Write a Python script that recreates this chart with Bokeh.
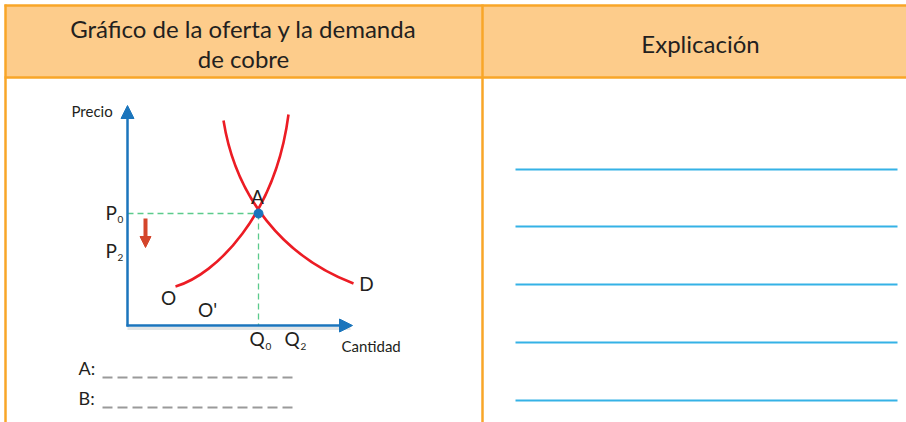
from bokeh.plotting import figure
from bokeh.models import Range1d, Arrow, NormalHead
from bokeh.core.properties import value
from bokeh.embed import file_html
from bokeh.resources import INLINE

# ---------------- data ----------------
header_titles = ["Gráfico de la oferta y la demanda", "de cobre", "Explicación"]
axis_titles = ["Precio", "Cantidad"]
price_labels = ["P", "P"]
price_subs = ["0", "2"]
qty_labels = ["Q", "Q"]
qty_subs = ["0", "2"]
curve_labels = ["O", "O'", "D"]
point_label = "A"
answer_labels = ["A:", "B:"]

# supply (O) and demand (D) curves: start, control1, control2, end  (page coordinates)
supply_curve = dict(x0=[175], y0=[286], cx0=[216], cy0=[274], cx1=[275], cy1=[214], x1=[288], y1=[114])
demand_curve = dict(x0=[223], y0=[120], cx0=[235], cy0=[196], cx1=[282], cy1=[256], x1=[353], y1=[283])
equilibrium = dict(q=[258], p=[213])
axis_origin = dict(x=[127], y=[325])
answer_lines_y = [377, 407]
explain_lines_y = [169, 226, 284, 342, 400]

# ---------------- figure ----------------
W, H = 906, 422
p = figure(width=W, height=H, x_range=Range1d(0, W), y_range=Range1d(H, 0),
           output_backend="svg", toolbar_location=None, min_border=0,
           x_axis_location=None, y_axis_location=None)
p.grid.visible = False
p.outline_line_color = None
p.background_fill_color = "white"
p.border_fill_color = "white"

FONT = value("Lato")
TXT = "#231f20"
ORANGE = "#F8A628"
BLUE = "#1b75bc"
RED = "#ec1c24"

# header
p.quad(left=[5], right=[906], top=[5], bottom=[77], fill_color="#FDCC8B", line_color=None)
p.segment(x0=[4, 4], y0=[5, 77], x1=[906, 906], y1=[5, 77], line_color=ORANGE, line_width=2.5)
p.segment(x0=[5, 482], y0=[4, 4], x1=[5, 482], y1=[422, 422], line_color=ORANGE, line_width=2.5)

p.text(x=[243, 243], y=[28, 58], text=header_titles[:2], text_align="center",
       text_baseline="middle", text_font=FONT, text_font_size="24px", text_color=TXT)
p.text(x=[700], y=[43], text=header_titles[2:], text_align="center",
       text_baseline="middle", text_font=FONT, text_font_size="24px", text_color=TXT)

# explanation lines
p.segment(x0=[515] * len(explain_lines_y), y0=explain_lines_y, x1=[897] * len(explain_lines_y),
          y1=explain_lines_y, line_color="#35b2e6", line_width=2)

# axes
ox, oy = axis_origin["x"][0], axis_origin["y"][0]
p.segment(x0=[ox], y0=[oy + 3], x1=[350], y1=[oy + 3], line_color="#cfd3d6", line_width=3, line_alpha=0.6)
p.add_layout(Arrow(end=NormalHead(size=13, fill_color=BLUE, line_color=BLUE),
                   x_start=ox, y_start=oy + 1, x_end=ox, y_end=105, line_color=BLUE, line_width=2.5))
p.add_layout(Arrow(end=NormalHead(size=13, fill_color=BLUE, line_color=BLUE),
                   x_start=ox - 1, y_start=oy, x_end=352, y_end=oy, line_color=BLUE, line_width=2.5))

# guide dashes
q, pr = equilibrium["q"][0], equilibrium["p"][0]
p.segment(x0=[ox, q], y0=[pr, pr], x1=[q, q], y1=[pr, oy], line_color="#5ccb8c",
          line_width=1.3, line_dash="6 4")

# curves
p.bezier(**supply_curve, line_color=RED, line_width=2.6)
p.bezier(**demand_curve, line_color=RED, line_width=2.6)

# equilibrium point
p.scatter(x=equilibrium["q"], y=equilibrium["p"], size=9, color=BLUE)

# red down arrow
p.add_layout(Arrow(end=NormalHead(size=11, fill_color="#d4452b", line_color="#d4452b"),
                   x_start=145, y_start=218, x_end=145, y_end=247, line_color="#d4452b", line_width=4))

# texts
p.text(x=[71], y=[110], text=[axis_titles[0]], text_align="left", text_baseline="middle",
       text_font=FONT, text_font_size="15px", text_color=TXT)
p.text(x=[341], y=[345], text=[axis_titles[1]], text_align="left", text_baseline="middle",
       text_font=FONT, text_font_size="15px", text_color=TXT)
p.text(x=[105, 105], y=[212, 250], text=price_labels, text_align="left", text_baseline="middle",
       text_font=FONT, text_font_size="19px", text_color=TXT)
p.text(x=[117, 117], y=[219, 257], text=price_subs, text_align="left", text_baseline="middle",
       text_font=FONT, text_font_size="10px", text_color=TXT)
p.text(x=[249, 284], y=[338, 338], text=qty_labels, text_align="left", text_baseline="middle",
       text_font=FONT, text_font_size="19px", text_color=TXT)
p.text(x=[265, 300], y=[346, 346], text=qty_subs, text_align="left", text_baseline="middle",
       text_font=FONT, text_font_size="10px", text_color=TXT)
p.text(x=[168, 207, 366], y=[297, 309, 283], text=curve_labels, text_align="center", text_baseline="middle",
       text_font=FONT, text_font_size="19px", text_color=TXT)
p.text(x=[257], y=[196], text=[point_label], text_align="center", text_baseline="middle",
       text_font=FONT, text_font_size="19px", text_color=TXT)

# answer lines
p.text(x=[78, 78], y=[367, 397], text=answer_labels, text_align="left", text_baseline="middle",
       text_font=FONT, text_font_size="18px", text_color=TXT)
p.segment(x0=[102, 102], y0=answer_lines_y, x1=[297, 297], y1=answer_lines_y,
          line_color="#9a9a9a", line_width=2, line_dash="10 5")

open("out.html", "w").write(file_html(p, INLINE))
